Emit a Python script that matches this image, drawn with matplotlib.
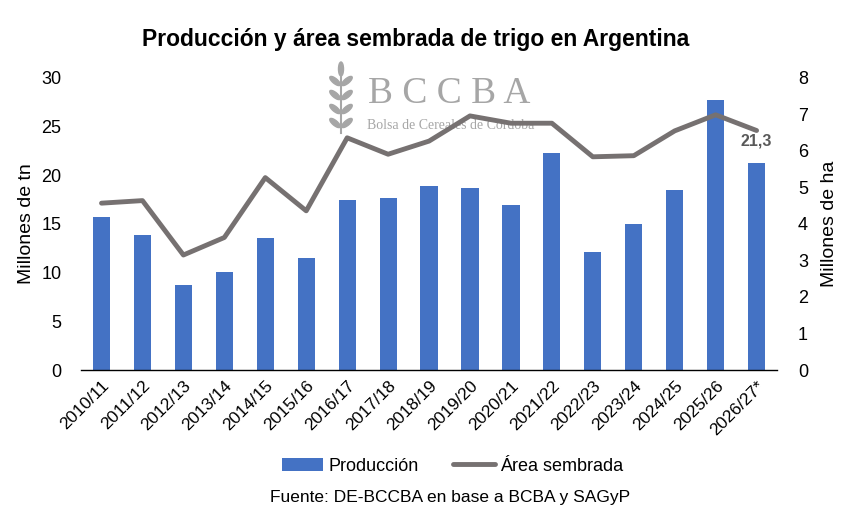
import numpy as np
import matplotlib.pyplot as plt
from matplotlib.patches import Ellipse

plt.rcParams['font.family'] = ['Liberation Sans', 'DejaVu Sans']

# Data
campaigns = ["2010/11", "2011/12", "2012/13", "2013/14", "2014/15", "2015/16", "2016/17",
             "2017/18", "2018/19", "2019/20", "2020/21", "2021/22", "2022/23", "2023/24",
             "2024/25", "2025/26", "2026/27*"]
produccion = [15.7, 13.9, 8.7, 10.1, 13.6, 11.5, 17.5, 17.7, 18.9, 18.7, 17.0, 22.3,
              12.1, 15.0, 18.5, 27.7, 21.3]
area = [4.57, 4.64, 3.15, 3.63, 5.27, 4.36, 6.36, 5.91, 6.27, 6.96, 6.76, 6.76,
        5.84, 5.87, 6.55, 6.99, 6.56]

bar_color = "#4472C4"
line_color = "#767171"
logo_grey = "#A6A6A6"

fig = plt.figure(figsize=(8.54, 5.32), dpi=100)
ax = fig.add_axes([0.0949, 0.3045, 0.815, 0.549])
ax2 = ax.twinx()

x = np.arange(len(campaigns))
bars = ax.bar(x, produccion, width=0.42, color=bar_color, label="Producción", zorder=2)
line, = ax2.plot(x, area, color=line_color, linewidth=3.5, label="Área sembrada",
                 solid_capstyle="round", zorder=3)

ax.set_xlim(-0.5, len(campaigns) - 0.5)
ax.set_ylim(0, 30)
ax.set_yticks(range(0, 31, 5))
ax2.set_ylim(0, 8)
ax2.set_yticks(range(0, 9))

for a in (ax, ax2):
    for s in ("top", "left", "right"):
        a.spines[s].set_visible(False)
    a.tick_params(length=0, labelsize=13)
ax2.spines["bottom"].set_visible(False)
ax.spines["bottom"].set_color("black")
ax.spines["bottom"].set_linewidth(1.0)
ax.tick_params(axis="y", pad=14)
ax2.tick_params(axis="y", pad=15)

ax.set_xticks(x)
ax.set_xticklabels(campaigns, rotation=45, ha="right", rotation_mode="anchor", fontsize=12.5)
ax.tick_params(axis="x", pad=6)

ax.set_ylabel("Millones de tn", fontsize=14, labelpad=5)
ax2.set_ylabel("Millones de ha", fontsize=14, labelpad=9)

# last value label
ax.annotate(f"{produccion[-1]:.1f}".replace(".", ","), (x[-1], produccion[-1]),
            xytext=(0, 10), textcoords="offset points", ha="center", va="bottom",
            fontsize=11.5, fontweight="bold", color="#595959")

fig.text(0.487, 0.925, "Producción y área sembrada de trigo en Argentina",
         ha="center", va="center", fontsize=16.5, fontweight="bold")

# logo (watermark), drawn in the bar axes so the line passes over it
ax.text(0.431, 0.824, "B C C B A", family="Liberation Serif", fontsize=27,
        color=logo_grey, ha="left", va="center", transform=fig.transFigure,
        clip_on=False, zorder=0)
ax.text(0.430, 0.765, "Bolsa de Cereales de Córdoba", family="Liberation Serif",
        fontsize=10, color=logo_grey, ha="left", va="center",
        transform=fig.transFigure, clip_on=False, zorder=0)

wheat = fig.add_axes([328 / 854, 1 - 135 / 532, 26 / 854, 75 / 532])
wheat.set_xlim(-13, 13)
wheat.set_ylim(0, 75)
wheat.axis("off")
wheat.plot([0, 0], [2, 60], color=logo_grey, lw=1.5)
for yy in (12, 26, 40, 54):
    for side in (-1, 1):
        wheat.add_patch(Ellipse((side * 6, yy), 13, 5, angle=side * 40,
                                color=logo_grey))
wheat.add_patch(Ellipse((0, 66), 5, 14, color=logo_grey))

fig.legend(handles=[bars, line], labels=["Producción", "Área sembrada"],
           loc="center", bbox_to_anchor=(0.53, 0.124), ncol=2, frameon=False,
           fontsize=13, handlelength=2.3, columnspacing=1.9, handletextpad=0.3)

fig.text(0.527, 0.064, "Fuente: DE-BCCBA en base a BCBA y SAGyP", ha="center",
         va="center", fontsize=12.5)

fig.savefig("out.png", dpi=100)
